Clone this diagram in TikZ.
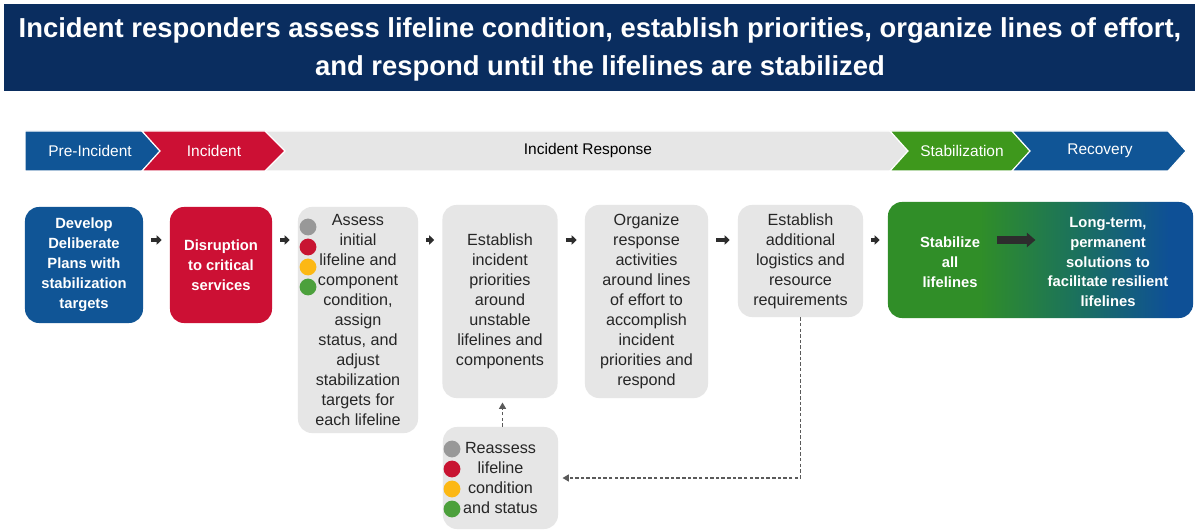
\documentclass[tikz,border=0pt]{standalone}
\usepackage{fontspec}
\setmainfont{Liberation Sans}
\usetikzlibrary{arrows.meta}
\definecolor{navy}{RGB}{10,45,95}
\definecolor{fblue}{RGB}{16,85,150}
\definecolor{fred}{RGB}{204,16,52}
\definecolor{fgreen}{RGB}{62,152,28}
\definecolor{gradgreen}{RGB}{48,142,40}
\definecolor{gradmid}{RGB}{28,115,90}
\definecolor{gradblue}{RGB}{14,80,150}
\definecolor{boxgray}{RGB}{230,230,230}
\definecolor{dotgray}{RGB}{152,152,152}
\definecolor{dotred}{RGB}{200,20,50}
\definecolor{dotyellow}{RGB}{252,184,20}
\definecolor{dotgreen}{RGB}{76,160,60}
\definecolor{dashgray}{RGB}{90,90,90}
\definecolor{arrowdark}{RGB}{45,45,45}
\pgfdeclarehorizontalshading{stabrec}{100bp}{color(0bp)=(gradgreen); color(25bp)=(gradgreen); color(40bp)=(gradgreen); color(55bp)=(gradmid); color(71bp)=(gradblue); color(100bp)=(gradblue)}
\tikzset{
  box/.style={rounded corners=0.35cm, inner sep=0pt, align=center,
    font=\fontsize{11.5}{14.2}\selectfont},
  graybox/.style={box, fill=boxgray, text=black!85},
  colbox/.style={box, text=white, font=\bfseries\fontsize{10.5}{14.2}\selectfont},
  dot/.style={circle, inner sep=0pt, minimum size=0.42cm},
  flow/.style={-{Triangle[length=3.6pt,width=6.6pt]}, line width=2.6pt,
    arrowdark, shorten <=0.2cm, shorten >=0.2cm},
  bigflow/.style={-{Triangle[length=6pt,width=10pt]}, line width=5pt,
    arrowdark, shorten <=0.42cm, shorten >=0.3cm},
  dasharrow/.style={-{Triangle[length=4.5pt,width=5pt]}, dashgray,
    line width=0.9pt, dash pattern=on 2.5pt off 1.5pt},
  phase/.style={draw=white, line width=0.8pt},
  phaselabel/.style={font=\fontsize{11}{13}\selectfont, text=white}
}
\begin{document}
\begin{tikzpicture}[x=0.025cm, y=-0.025cm]
  \useasboundingbox (0,0) rectangle (1199,531);
  \fill[white] (0,0) rectangle (1199,531);

  % title banner
  \fill[navy] (4,4) rectangle (1195,91);
  \node[text=white, align=center, font=\bfseries\fontsize{19.5}{27}\selectfont]
    (title) at (600,49) {Incident responders assess lifeline condition, establish priorities, organize lines of effort,\\
    and respond until the lifelines are stabilized};

  % phase bar
  \fill[boxgray, phase] (250,131) -- (890,131) -- (908,151) -- (890,171) -- (250,171) -- cycle;
  \fill[fblue, phase] (25,131) -- (142,131) -- (160,151) -- (142,171) -- (25,171) -- cycle;
  \fill[fred, phase] (142,131) -- (265,131) -- (285,151) -- (265,171) -- (142,171) -- (160,151) -- cycle;
  \fill[fgreen, phase] (890,131) -- (1012,131) -- (1030,151) -- (1012,171) -- (890,171) -- (908,151) -- cycle;
  \fill[fblue, phase] (1012,131) -- (1168,131) -- (1186,151) -- (1168,171) -- (1012,171) -- (1030,151) -- cycle;
  \node[phaselabel] (pre) at (90,151) {Pre-Incident};
  \node[phaselabel] (inc) at (214,151) {Incident};
  \node[phaselabel, text=black] (resp) at (588,151) {Incident Response};
  \node[phaselabel] (stabl) at (962,151) {Stabilization};
  \node[phaselabel] (recov) at (1100,151) {Recovery};

  % step boxes
  \node[colbox, fill=fblue, minimum width=2.95cm, minimum height=2.9cm]
    (dev) at (84,265) {Develop\\Deliberate\\Plans with\\stabilization\\targets};
  \node[colbox, fill=fred, minimum width=2.55cm, minimum height=2.9cm]
    (dis) at (221,265) {Disruption\\to critical\\services};
  \node[graybox, minimum width=3cm, minimum height=5.65cm]
    (assess) at (358,320) {Assess\\initial\\lifeline and\\component\\condition,\\assign\\status, and\\adjust\\stabilization\\targets for\\each lifeline};
  \node[graybox, minimum width=2.875cm, minimum height=4.825cm]
    (prio) at (500,301.5) {Establish\\incident\\priorities\\around\\unstable\\lifelines and\\components};
  \node[graybox, minimum width=3.075cm, minimum height=4.825cm]
    (org) at (646.5,301.5) {Organize\\response\\activities\\around lines\\of effort to\\accomplish\\incident\\priorities and\\respond};
  \node[graybox, minimum width=3.125cm, minimum height=2.8cm]
    (logi) at (800.5,261) {Establish\\additional\\logistics and\\resource\\requirements};
  \node[box, shading=stabrec, minimum width=7.625cm, minimum height=2.9cm]
    (stab) at (1040.5,260) {};
  \node[colbox] (stabtxt) at (950,262) {Stabilize\\all\\lifelines};
  \node[colbox] (longtxt) at (1108,262) {Long-term,\\permanent\\solutions to\\facilitate resilient\\lifelines};
  \node[graybox, minimum width=2.875cm, minimum height=2.55cm]
    (reass) at (500.5,478) {Reassess\\lifeline\\condition\\and status};

  % status dots
  \foreach \c [count=\i] in {dotgray,dotred,dotyellow,dotgreen} {
    \node[dot, fill=\c] (adot\i) at (308,207+20*\i) {};
    \node[dot, fill=\c] (rdot\i) at (452,429+20*\i) {};
  }

  % connectors
  \coordinate (row) at (0,240);
  \draw[flow] (dev.east |- row) -- (dis.west |- row);
  \draw[flow] (dis.east |- row) -- (assess.west |- row);
  \draw[flow] (assess.east |- row) -- (prio.west |- row);
  \draw[flow] (prio.east |- row) -- (org.west |- row);
  \draw[flow] (org.east |- row) -- (logi.west |- row);
  \draw[flow] (logi.east |- row) -- (stab.west |- row);
  \draw[bigflow] (stabtxt.east |- row) -- (longtxt.west |- row);
  \draw[dasharrow, shorten >=3pt] (logi.south) |- (reass.east);
  \draw[dasharrow, shorten >=3pt] ([xshift=0.05cm]reass.north) -- ([xshift=0.05cm]reass.north |- prio.south);
\end{tikzpicture}
\end{document}
